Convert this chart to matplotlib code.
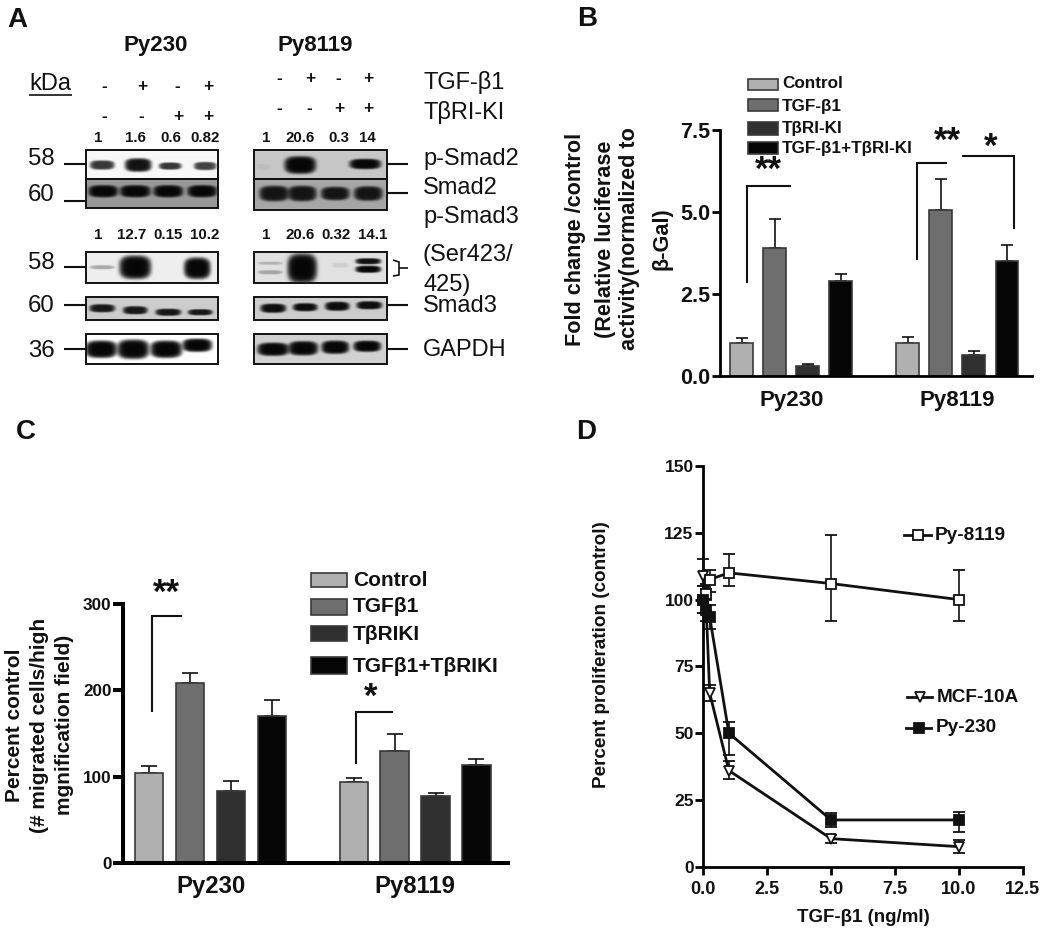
import numpy as np
import matplotlib
matplotlib.use("Agg")
import matplotlib.pyplot as plt
from matplotlib.patches import Rectangle

plt.rcParams['font.family'] = ['Liberation Sans', 'DejaVu Sans']

W, H = 1050, 933

# panel B
groups = ["Py230", "Py8119"]
treat_b = ["Control", "TGF-β1", "TβRI-KI", "TGF-β1+TβRI-KI"]
luc_py230 = [1.0, 3.9, 0.3, 2.9]
luc_py230_top = [1.15, 4.8, 0.37, 3.1]
luc_py8119 = [1.0, 5.05, 0.65, 3.5]
luc_py8119_top = [1.2, 6.0, 0.75, 4.0]

# panel C
treat_c = ["Control", "TGFβ1", "TβRIKI", "TGFβ1+TβRIKI"]
mig_py230 = [104, 208, 83, 170]
mig_py230_top = [112, 220, 95, 189]
mig_py8119 = [94, 130, 78, 114]
mig_py8119_top = [99, 150, 81, 121]

# panel D
dose = [0, 0.1, 0.25, 1, 5, 10]
py8119 = [100, 102, 107.5, 110, 106, 100]
py8119_low = [95, 98, 103, 105, 92, 92]
py8119_high = [105, 106, 111, 117, 124, 111]
mcf10a = [109, 100, 65, 36, 10.5, 7.5]
mcf10a_low = [105, 96, 62, 33, 9, 5]
mcf10a_high = [115, 104, 68, 39.5, 12, 10]
py230 = [100, 96, 93.5, 50, 17.5, 17.5]
py230_low = [95, 92, 89, 42, 15, 13]
py230_high = [105, 100, 98, 54, 20, 20.5]

# panel A
lanes_tgf = ["-", "+", "-", "+"]
lanes_ki = ["-", "-", "+", "+"]
ratio_s2_230 = ["1", "1.6", "0.6", "0.82"]
ratio_s2_8119 = ["1", "20.6", "0.3", "14"]
ratio_s3_230 = ["1", "12.7", "0.15", "10.2"]
ratio_s3_8119 = ["1", "20.6", "0.32", "14.1"]
kda_labels = ["58", "60", "58", "60", "36"]
proteins = ["p-Smad2", "Smad2", "p-Smad3", "(Ser423/", "425)", "Smad3", "GAPDH"]

# band darkness per blot
dark_ps2_230 = [0.8, 0.95, 0.8, 0.75]
dark_ps2_8119 = [0.05, 1.0, 1.0]
dark_s2_230 = [1.0, 1.0, 1.0, 1.0]
dark_s2_8119 = [0.92, 0.92, 0.92, 0.92]
dark_ps3_230 = [0.3, 1.0, 1.0]
dark_ps3_8119 = [0.22, 0.28, 1.0, 0.08, 0.95, 1.0]
dark_s3_230 = [0.92, 0.92, 0.92, 0.92]
dark_s3_8119 = [0.97, 0.97, 0.97, 0.97]
dark_g_230 = [1.0, 1.0, 1.0, 1.0]
dark_g_8119 = [1.0, 1.0, 1.0, 1.0]

bar_colors = ["#b0b0b0", "#6e6e6e", "#303030", "#060606"]
INK = "#111111"

fig = plt.figure(figsize=(W / 100, H / 100), dpi=100, facecolor="white")


def px_axes(left, right, top, bottom):
    return fig.add_axes([left / W, 1 - bottom / H, (right - left) / W, (bottom - top) / H])


over = fig.add_axes([0, 0, 1, 1], zorder=5)
over.patch.set_alpha(0)
over.axis("off")


def txt(x, y, s, size, weight="bold", ha="center", va="center", rot=0):
    over.text(x, y, s, fontsize=size, fontweight=weight, ha=ha, va=va, rotation=rot,
              color=INK, rotation_mode="anchor" if rot else "default")


def line(xs, ys, lw=1.5):
    over.plot(xs, ys, color=INK, lw=lw, solid_capstyle="butt", solid_joinstyle="miter")


def blot(box, bg, bands, darkness):
    x0, x1, y0, y1 = box
    xx, yy = np.meshgrid(np.arange(x0, x1, 0.5), np.arange(y0, y1, 0.5))
    img = np.full(xx.shape, float(bg))
    for (cx, cy, w, h), d in zip(bands, darkness):
        r = np.abs((xx - cx) / (w / 2)) ** 3 + np.abs((yy - cy) / (h / 2)) ** 3
        a = d * np.exp(-(r / 1.1) ** 2.5)
        img = img * (1 - a) + 0.03 * a
    over.imshow(img, cmap="gray", vmin=0, vmax=1, extent=(x0, x1, y1, y0),
                aspect="auto", interpolation="bilinear", zorder=1)
    over.add_patch(Rectangle((x0, y0), x1 - x0, y1 - y0, fill=False, ec=INK, lw=1.4, zorder=2))


def grouped_bars(ax, vals_a, tops_a, vals_b, tops_b, offset, width, lw, cap):
    xa = np.arange(4)
    xb = xa + offset
    for xs, vals, tops in ((xa, vals_a, tops_a), (xb, vals_b, tops_b)):
        vals = np.array(vals, float)
        ax.bar(xs, vals, width, color=bar_colors, edgecolor="#3a3a3a", lw=lw, zorder=2)
        ax.errorbar(xs, vals, yerr=[np.zeros(4), np.array(tops) - vals], fmt="none",
                    ecolor=INK, elinewidth=1.2, capsize=cap, capthick=1.2, zorder=1)
    ax.set_xticks([xa.mean(), xb.mean()])


def style(ax, lw, ticklen, size):
    ax.spines[["top", "right"]].set_visible(False)
    ax.spines[["left", "bottom"]].set_linewidth(lw)
    ax.tick_params(axis="y", width=lw, length=ticklen, labelsize=size, pad=1)
    ax.patch.set_alpha(0)
    for lab in ax.get_yticklabels() + ax.get_xticklabels():
        lab.set_fontweight("bold")
        lab.set_color(INK)


# ---- A ----
txt(17, 20, "A", 20)
txt(156, 45, "Py230", 16)
txt(315, 45, "Py8119", 16)
txt(29, 84, "kDa", 17, weight="normal", ha="left")
line([29, 72], [95, 95], 1.2)
for x, t in zip([104, 142, 177, 208], lanes_tgf):
    txt(x, 87, t, 12.5)
for x, k in zip([104, 141, 178, 208], lanes_ki):
    txt(x, 116, k, 12.5)
for x, t in zip([279, 310, 338, 368], lanes_tgf):
    txt(x, 79, t, 12.5)
for x, k in zip([279, 309, 339, 368], lanes_ki):
    txt(x, 109, k, 12.5)
for x, s in zip([98, 135, 171, 205], ratio_s2_230):
    txt(x, 138, s, 10.8)
for x, s in zip([266, 300, 339, 367], ratio_s2_8119):
    txt(x, 138, s, 10.8)
for x, s in zip([98, 132, 168, 205], ratio_s3_230):
    txt(x, 235, s, 10.8)
for x, s in zip([266, 300, 336, 373], ratio_s3_8119):
    txt(x, 235, s, 10.8)

txt(423, 83, "TGF-β1", 17, weight="normal", ha="left")
txt(423, 112, "TβRI-KI", 17, weight="normal", ha="left")
for y, s in zip([159, 188, 217, 255, 285, 306, 350], proteins):
    txt(423, y, s, 17, weight="normal", ha="left")
for y, s in zip([159, 195, 263, 306, 351], kda_labels):
    txt(28, y, s, 17.3, weight="normal", ha="left")
for y in [164, 201, 267, 305, 349]:
    line([64, 86], [y, y])
for y in [164, 193, 305, 349]:
    line([387, 408], [y, y])
line([393, 399, 399, 393], [260, 262, 275, 276], 1.2)
line([399, 408], [268, 268], 1.2)

L, R = (86, 218), (254, 387)
blot((*L, 149.5, 179), 0.97, [(102, 165, 24, 9), (138, 165, 26, 13), (170, 166, 22, 7), (205, 166, 22, 8)], dark_ps2_230)
blot((*R, 149.5, 179), 0.78, [(263, 167, 14, 6), (300, 165, 31, 17), (365, 164, 31, 10)], dark_ps2_8119)
blot((*L, 179, 208), 0.6, [(103, 191, 29, 12), (135, 191, 30, 12), (168, 191, 29, 12), (202, 191, 29, 12)], dark_s2_230)
blot((*R, 179, 209.5), 0.65, [(274, 194, 29, 15), (302, 194, 28, 15), (335, 194, 28, 13), (368, 194, 28, 14)], dark_s2_8119)
blot((*L, 252, 283), 0.93, [(102, 267, 24, 4), (135, 267, 31, 23), (197, 268, 26, 21)], dark_ps3_230)
blot((*R, 252, 283), 0.88, [(270, 263, 24, 3), (270, 272, 24, 4), (302, 268, 29, 29), (340, 265, 16, 5), (368, 261, 25, 6), (368, 269, 25, 7)], dark_ps3_8119)
blot((*L, 297, 320), 0.8, [(102, 308, 25, 8), (135, 310, 24, 8), (168, 312, 25, 7), (200, 312, 24, 6)], dark_s3_230)
blot((*R, 297, 320), 0.8, [(273, 308, 25, 9), (305, 307, 24, 8), (337, 306, 24, 9), (369, 305, 25, 8)], dark_s3_8119)
blot((*L, 334, 364), 1.0, [(101, 349, 31, 17), (133, 349, 31, 19), (166, 349, 31, 17), (197, 345, 29, 13)], dark_g_230)
blot((*R, 334, 364), 0.82, [(273, 349, 31, 13), (303, 348, 29, 14), (335, 347, 27, 13), (367, 346, 27, 11)], dark_g_8119)

# ---- B ----
txt(587, 19, "B", 20)
ax_b = px_axes(720, 1032, 130, 376)
grouped_bars(ax_b, luc_py230, luc_py230_top, luc_py8119, luc_py8119_top, 5.03, 0.69, 1.2, 4.5)
ax_b.set_xlim(-0.657, 8.79)
ax_b.set_ylim(0, 7.5)
ax_b.set_yticks([0, 2.5, 5, 7.5], ["0.0", "2.5", "5.0", "7.5"])
ax_b.set_xticklabels(groups, fontsize=16)
ax_b.tick_params(axis="x", length=0, pad=10)
style(ax_b, 2, 6, 15.5)

for x, s in zip([575, 605, 630, 662], ["Fold change /control", "(Relative luciferase",
                                       "activity(normalized to", "β-Gal)"]):
    txt(x, 239, s, 15.6, rot=90)
for (y0, y1), yt, c, s in zip([(79, 90), (99, 111), (122, 135), (142, 154)], [84, 106, 129, 149], bar_colors, treat_b):
    over.add_patch(Rectangle((748, y0), 30, y1 - y0, fc=c, ec="#3a3a3a", lw=1.2))
    txt(782, yt, s, 12.3, ha="left")
line([747, 747, 791], [283, 186, 186])
line([917, 917, 947], [260, 163, 163])
line([962, 1014, 1014], [156, 156, 229])
txt(768, 170, "**", 25)
txt(947, 141, "**", 25)
txt(991, 147, "*", 25)

# ---- C ----
txt(26, 432, "C", 20)
ax_c = px_axes(122.7, 508, 604, 863)
grouped_bars(ax_c, mig_py230, mig_py230_top, mig_py8119, mig_py8119_top, 4.99, 0.69, 1.2, 5.5)
ax_c.set_xlim(-0.65, 8.76)
ax_c.set_ylim(0, 300)
ax_c.set_yticks([0, 100, 200, 300])
ax_c.set_xticklabels(groups, fontsize=17.2)
ax_c.tick_params(axis="x", length=0, pad=9)
style(ax_c, 2.9, 7, 12.3)

for x, s in zip([15, 40, 65], ["Percent control", "(# migrated cells/high", "mgnification field)"]):
    txt(x, 725, s, 15, rot=90)
for (y0, y1), yt, c, s in zip([(573, 587), (599, 615), (626, 641), (657, 674)], [580, 607, 634, 666], bar_colors, treat_c):
    over.add_patch(Rectangle((311, y0), 36, y1 - y0, fc=c, ec="#3a3a3a", lw=1.2))
    txt(353, yt, s, 15, ha="left")
line([152, 152, 182], [712, 616, 616])
line([356, 356, 393], [764, 712, 712])
txt(166, 593, "**", 25)
txt(371, 697, "*", 25)

# ---- D ----
txt(586, 432, "D", 20)
ax_d = px_axes(703.3, 1022.7, 466, 866.7)
series = [
    (mcf10a, mcf10a_low, mcf10a_high, "v", "white"),
    (py8119, py8119_low, py8119_high, "s", "white"),
    (py230, py230_low, py230_high, "s", INK),
]
for vals, low, high, mk, mfc in series:
    vals = np.array(vals, float)
    ax_d.errorbar(dose, vals, yerr=[vals - np.array(low), np.array(high) - vals], color=INK,
                  lw=2, elinewidth=1.2, capsize=4, capthick=1.2, marker=mk, ms=7.7, mfc=mfc,
                  mec=INK, mew=1.3, clip_on=False, zorder=3)
ax_d.set_xlim(0, 12.5)
ax_d.set_ylim(0, 150)
ax_d.set_xticks([0, 2.5, 5, 7.5, 10, 12.5], ["0.0", "2.5", "5.0", "7.5", "10.0", "12.5"])
ax_d.set_yticks([0, 25, 50, 75, 100, 125, 150])
ax_d.tick_params(axis="x", width=2, length=6, labelsize=13, pad=4)
style(ax_d, 2, 6, 12.5)

txt(602, 655, "Percent proliferation (control)", 13.6, rot=90)
txt(863, 918, "TGF-β1 (ng/ml)", 13.5)
for (x0, x1), y, tx, mk, mfc, s in [((904, 931), 535, 935, "s", "white", "Py-8119"),
                                    ((907, 932), 697, 937, "v", "white", "MCF-10A"),
                                    ((906, 931), 728, 936, "s", INK, "Py-230")]:
    over.plot([x0, x1], [y, y], color=INK, lw=2)
    over.plot([(x0 + x1) / 2], [y], marker=mk, ms=7.7, mfc=mfc, mec=INK, mew=1.3, ls="none")
    txt(tx, y, s, 13.7, ha="left")

over.set_xlim(0, W)
over.set_ylim(H, 0)

fig.savefig("out.png", dpi=100)
